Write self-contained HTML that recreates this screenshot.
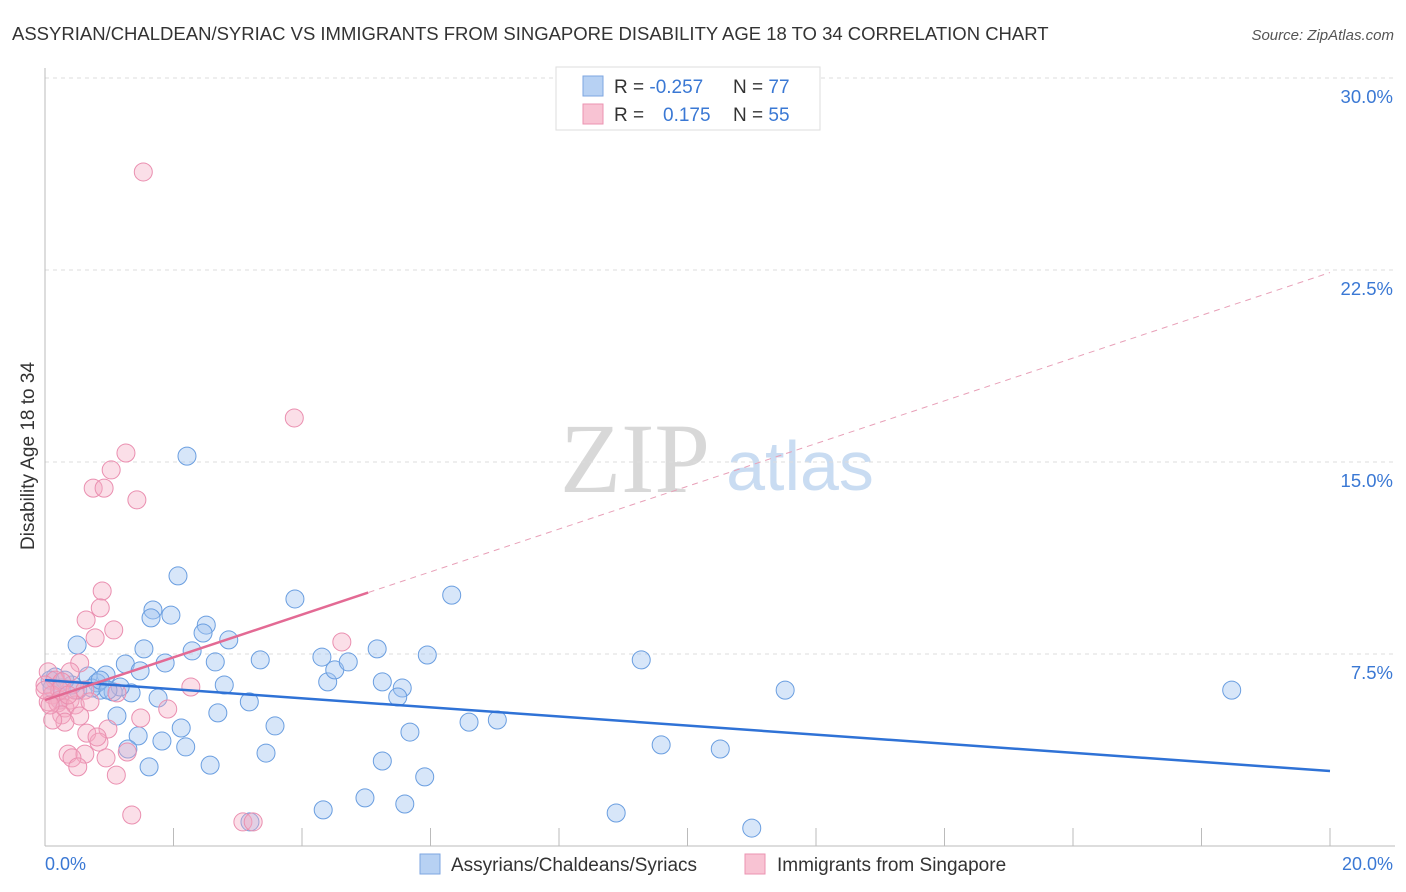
<!DOCTYPE html>
<html><head><meta charset="utf-8"><style>
body{margin:0;background:#fff;font-family:"Liberation Sans",sans-serif;}
svg{display:block}
</style></head><body>
<svg id="chart" width="1406" height="892">
<text x="12" y="40" font-size="18.5" fill="#333">ASSYRIAN/CHALDEAN/SYRIAC VS IMMIGRANTS FROM SINGAPORE DISABILITY AGE 18 TO 34 CORRELATION CHART</text>
<text x="1394" y="40" font-size="15" fill="#555" font-style="italic" text-anchor="end">Source: ZipAtlas.com</text>
<text x="635" y="492" font-size="100" fill="#d8d8d8" font-family="Liberation Serif,serif" text-anchor="middle">ZIP</text>
<text x="800" y="490" font-size="70" fill="#c9dcf2" text-anchor="middle">atlas</text>
<text transform="translate(34,456) rotate(-90)" font-size="19" fill="#333" text-anchor="middle">Disability Age 18 to 34</text>
<g id="grid"></g><g id="pts"></g><g id="lines"></g>
<g>
<rect x="556" y="67" width="264" height="63" fill="#fff" stroke="#ddd"/>
<rect x="583" y="76" width="20" height="20" fill="#b7d1f3" stroke="#7ea6e0"/>
<rect x="583" y="104" width="20" height="20" fill="#f8c3d3" stroke="#eb93b1"/>
<text x="614" y="93" font-size="19" fill="#333">R = <tspan fill="#3a78d4">-0.257</tspan><tspan x="733">N = </tspan><tspan fill="#3a78d4">77</tspan></text>
<text x="614" y="121" font-size="19" fill="#333">R = <tspan x="663" fill="#3a78d4">0.175</tspan><tspan x="733">N = </tspan><tspan fill="#3a78d4">55</tspan></text>
</g>
<g>
<rect x="420" y="854" width="20" height="20" fill="#b7d1f3" stroke="#7ea6e0"/>
<text x="451" y="871" font-size="19" fill="#333">Assyrians/Chaldeans/Syriacs</text>
<rect x="745" y="854" width="20" height="20" fill="#f8c3d3" stroke="#eb93b1"/>
<text x="777" y="871" font-size="19" fill="#333">Immigrants from Singapore</text>
</g>
<text x="45" y="870" font-size="18" fill="#3a78d4">0.0%</text>
<text x="1393" y="870" font-size="18" fill="#3a78d4" text-anchor="end">20.0%</text>
</svg>
<script>
const yTicks=[7.5,15,22.5,30];
const yTickLabels=["7.5%","15.0%","22.5%","30.0%"];
const xTicks=[0,2,4,6,8,10,12,14,16,18,20];
const blueX=[2.21,2.07,1.68,1.96,1.65,2.51,2.46,2.86,0.50,1.54,2.29,1.25,1.87,2.65,3.35,1.48,0.95,0.67,0.16,0.08,0.26,0.51,0.86,1.06,1.34,1.17,0.81,0.42,0.11,1.76,2.79,3.18,1.12,2.69,3.58,2.12,1.45,1.29,1.82,2.19,3.44,1.62,2.57,3.89,4.31,4.40,4.51,4.72,5.17,5.25,5.56,5.49,5.95,5.68,6.33,6.60,7.04,5.25,5.91,4.33,4.98,5.60,8.89,9.28,9.59,10.51,11.00,11.52,18.47,3.19,0.31,0.73,0.86,0.98,0.23];
const blueY=[15.23,10.55,9.22,9.02,8.91,8.63,8.32,8.05,7.85,7.70,7.62,7.11,7.15,7.19,7.27,6.84,6.68,6.64,6.60,6.48,6.17,6.09,6.09,6.02,5.98,6.21,6.37,6.29,6.17,5.78,6.29,5.63,5.08,5.20,4.69,4.61,4.30,3.79,4.10,3.87,3.63,3.09,3.16,9.65,7.38,6.41,6.88,7.19,7.70,6.41,6.17,5.82,7.46,4.45,9.80,4.84,4.92,3.32,2.70,1.41,1.88,1.64,1.29,7.27,3.95,3.79,0.70,6.09,6.09,0.94,6.48,6.17,6.48,6.09,5.70];
const pinkX=[1.53,3.88,1.26,1.03,0.75,0.92,1.43,0.89,0.86,0.64,1.07,0.78,0.54,0.39,0.05,0.16,0.26,0.00,0.11,0.23,0.05,0.39,0.20,0.31,0.47,0.54,0.26,0.31,0.12,4.62,2.27,1.12,1.91,1.49,0.98,0.65,0.84,0.81,1.28,0.62,0.36,0.42,0.51,0.95,1.11,1.35,3.08,3.24,0.23,0.47,0.0,0.08,0.36,0.62,0.70];
const pinkY=[26.33,16.72,15.35,14.69,13.98,13.98,13.52,9.96,9.30,8.83,8.44,8.13,7.15,6.80,6.80,6.48,6.41,6.29,5.90,5.70,5.63,5.70,5.59,5.39,5.51,5.08,5.12,4.84,4.92,7.97,6.21,5.98,5.35,5.00,4.57,4.41,4.06,4.26,3.67,3.59,3.59,3.44,3.09,3.44,2.77,1.21,0.94,0.94,6.09,6.09,6.09,5.51,5.90,6.09,5.63];
const blueTrend=[6.48,2.93];
const pinkTrend=[5.7,22.4];
const pinkSolidEnd=5.03;
const NS="http://www.w3.org/2000/svg";
const X=v=>45+v*64.25, Y=v=>846-v*25.6;
function mk(t,a,p){const e=document.createElementNS(NS,t);for(const k in a)e.setAttribute(k,a[k]);p.appendChild(e);return e;}
const grid=document.getElementById('grid');
yTicks.forEach((t,i)=>{
 const l=mk('line',{x1:45,x2:1395,y1:Y(t),y2:Y(t),stroke:'#ddd','stroke-dasharray':'4,4'},grid);
 
 
 const tx=mk('text',{x:1393,y:Y(t)+25,'font-size':18.5,fill:'#3a78d4','text-anchor':'end'},grid);
 tx.textContent=yTickLabels[i];
 
 
});
const ax=mk('line',{x1:45,x2:45,y1:68,y2:846,stroke:'#bbb'},grid);


const bx=mk('line',{x1:45,x2:1395,y1:846,y2:846,stroke:'#bbb'},grid);


xTicks.forEach(t=>{
 const l=mk('line',{x1:X(t),x2:X(t),y1:828,y2:846,stroke:'#bbb'},grid);
 
 
});
const pts=document.getElementById('pts');
blueX.forEach((v,i)=>{
 const c=mk('circle',{cx:X(v),cy:Y(blueY[i]),r:9,fill:'rgba(160,195,240,0.42)',stroke:'#6a9ee0','stroke-width':1},pts);
 
 
});
pinkX.forEach((v,i)=>{
 const c=mk('circle',{cx:X(v),cy:Y(pinkY[i]),r:9,fill:'rgba(245,170,195,0.38)',stroke:'#ea8fb0','stroke-width':1},pts);
 
 
});
const lines=document.getElementById('lines');
const bl=mk('line',{x1:X(0),y1:Y(blueTrend[0]),x2:X(20),y2:Y(blueTrend[1]),stroke:'#2f72d6','stroke-width':2.5},lines);


const pv=x=>pinkTrend[0]+(pinkTrend[1]-pinkTrend[0])*x/20;
const pd=mk('line',{x1:X(0),y1:Y(pinkTrend[0]),x2:X(20),y2:Y(pinkTrend[1]),stroke:'#e8a0b8','stroke-width':1,'stroke-dasharray':'6,5'},lines);


const ps=mk('line',{x1:X(0),y1:Y(pinkTrend[0]),x2:X(pinkSolidEnd),y2:Y(pv(pinkSolidEnd)),stroke:'#e36a94','stroke-width':2.5},lines);


</script>
</body></html>
